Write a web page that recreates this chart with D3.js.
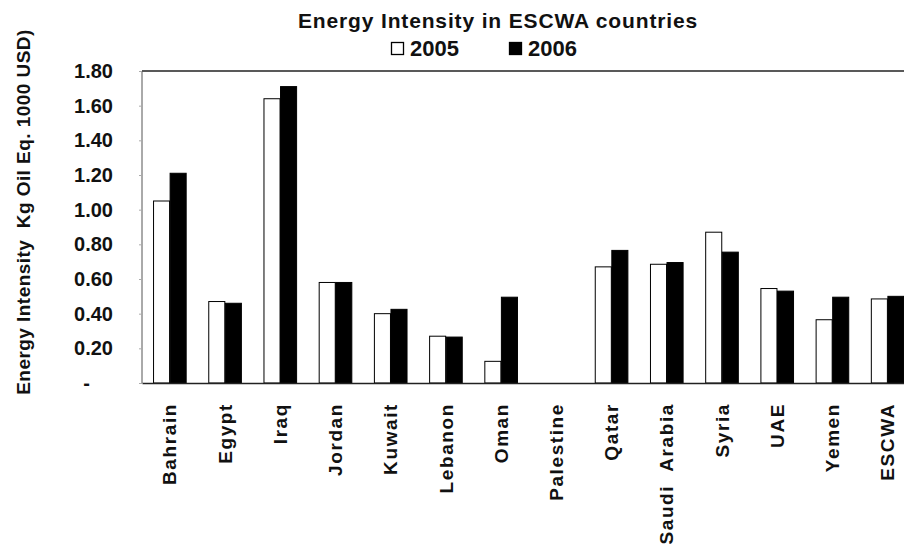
<!DOCTYPE html>
<html>
<head>
<meta charset="utf-8">
<script src="https://cdn.jsdelivr.net/npm/d3@7"></script>
<style>
  body { margin: 0; background: #fff; }
  text { font-family: "Liberation Sans", Arial, sans-serif; fill: #111; }
</style>
</head>
<body>
<svg id="chart" width="904" height="544"></svg>
<script>
// data
let countries = ['Bahrain', 'Egypt', 'Iraq', 'Jordan', 'Kuwait', 'Lebanon', 'Oman',
  'Palestine', 'Qatar', 'Saudi  Arabia', 'Syria', 'UAE', 'Yemen', 'ESCWA']
let values2005 = [1.05, 0.47, 1.64, 0.58, 0.40, 0.27, 0.125, null, 0.67, 0.685, 0.87, 0.545, 0.365, 0.485]
let values2006 = [1.21, 0.46, 1.71, 0.58, 0.425, 0.265, 0.495, null, 0.765, 0.695, 0.755, 0.53, 0.495, 0.50]
let years = ['2005', '2006']
let yTicks = [0, 0.2, 0.4, 0.6, 0.8, 1.0, 1.2, 1.4, 1.6, 1.8]

let margin = { top: 71, left: 142, bottom: 161 }
let height = 544 - margin.top - margin.bottom

let svg = d3.select('#chart')
svg.append('rect').attr('width', 904).attr('height', 544).attr('fill', '#fff')

let chart = svg.append('g')
    .attr('transform', 'translate(' + margin.left + ',' + margin.top + ')')

// plot runs a bit past the right edge of the picture
let x = d3.scaleBand().domain(countries).range([0, 773]).paddingInner(0.4).paddingOuter(0.2)
let xSub = d3.scaleBand().domain(years).range([0, x.bandwidth()])
let y = d3.scaleLinear().domain([0, 1.8]).range([height, 0])

// frame
chart.append('line').attr('x1', 0).attr('x2', 780).attr('y1', 0).attr('y2', 0)
    .attr('stroke', '#222').attr('stroke-width', 1.5)
chart.append('line').attr('x1', 0).attr('x2', 0).attr('y1', 0).attr('y2', height)
    .attr('stroke', '#555').attr('stroke-width', 1)

// y axis
let yAxis = chart.append('g').attr('class', 'axis y')
    .call(d3.axisLeft(y).tickValues(yTicks).tickSize(3).tickPadding(26)
      .tickFormat(d => d === 0 ? '-' : d3.format('.2f')(d)))
yAxis.select('.domain').remove()
yAxis.selectAll('line').attr('stroke', '#aaa')
yAxis.selectAll('text')
    .attr('font-size', 20).attr('font-weight', 'bold')
    .attr('font-family', '"Liberation Sans", Arial, sans-serif')
    .attr('fill', '#111')
yAxis.selectAll('.tick').filter(d => d === 0).select('text').attr('x', -52)

let rows = countries.map((c, i) => ({ country: c, v: [values2005[i], values2006[i]] }))

let groups = chart.selectAll('.grp')
    .data(rows)
    .enter()
    .append('g')
    .attr('class', 'grp')
    .attr('transform', d => 'translate(' + x(d.country) + ',0)')

groups.selectAll('rect')
    .data(d => years.map((yr, j) => ({ year: yr, value: d.v[j] })).filter(e => e.value !== null))
    .enter()
    .append('rect')
    .attr('x', d => xSub(d.year) + 0.5)
    .attr('y', d => y(d.value))
    .attr('width', xSub.bandwidth() - 0.5)
    .attr('height', d => height - y(d.value))
    .attr('fill', d => d.year === '2005' ? '#fff' : '#000')
    .attr('stroke', '#000')
    .attr('stroke-width', 1)

// x axis
let xAxis = chart.append('g').attr('class', 'axis x')
    .attr('transform', 'translate(0,' + height + ')')
    .call(d3.axisBottom(x).tickSize(0).tickPadding(0))
xAxis.select('.domain').attr('stroke', '#222').attr('stroke-width', 1.5)
xAxis.selectAll('text')
    .attr('font-size', 19).attr('font-weight', 'bold')
    .attr('font-family', '"Liberation Sans", Arial, sans-serif')
    .attr('fill', '#111')
    .attr('letter-spacing', 1.6)
    .attr('text-anchor', 'end')
    .attr('transform', 'translate(0,20) rotate(-90)')
    .attr('x', 0).attr('y', 0).attr('dy', '0.36em')
    .style('white-space', 'pre')

// title
svg.append('text')
    .attr('x', 498).attr('y', 28)
    .attr('text-anchor', 'middle')
    .attr('font-size', 21).attr('font-weight', 'bold')
    .attr('letter-spacing', 0.85)
    .text('Energy Intensity in ESCWA countries')

// legend
let legendX = [391, 509]
let legend = svg.selectAll('.legend')
    .data(years)
    .enter()
    .append('g')
    .attr('class', 'legend')
    .attr('transform', (d, i) => 'translate(' + legendX[i] + ',0)')
legend.append('rect')
    .attr('x', 0.5).attr('y', 42.5).attr('width', 12).attr('height', 12)
    .attr('fill', d => d === '2005' ? '#fff' : '#000')
    .attr('stroke', '#000').attr('stroke-width', 1.3)
legend.append('text')
    .attr('x', 19).attr('y', 56)
    .attr('font-size', 22).attr('font-weight', 'bold')
    .text(d => d)

// y axis title
svg.append('text')
    .attr('transform', 'translate(30,' + 212 + ') rotate(-90)')
    .attr('text-anchor', 'middle')
    .attr('font-size', 19).attr('font-weight', 'bold')
    .attr('letter-spacing', 0.45)
    .style('white-space', 'pre')
    .text('Energy Intensity  Kg Oil Eq. 1000 USD)')
</script>
</body>
</html>
